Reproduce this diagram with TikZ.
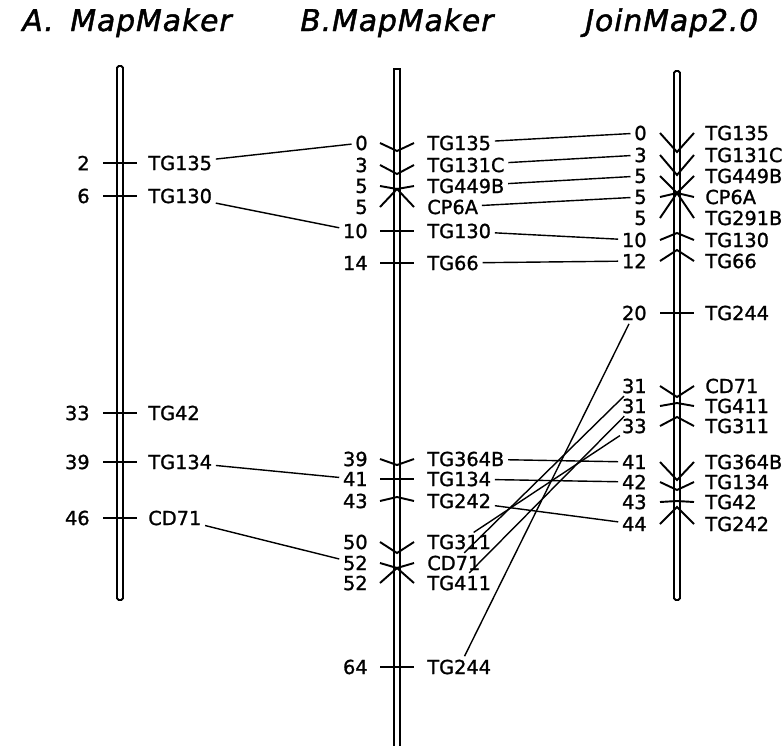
\documentclass[tikz,border=0pt]{standalone}
\usepackage{fontspec}
\setmainfont{DejaVu Sans}
\usetikzlibrary{calc}
\tikzset{
  chrom/.style={draw, line width=1.1pt},
  tickmark/.style={line width=1.1pt},
  link/.style={line width=0.8pt, shorten <=2pt, shorten >=2pt},
  numlab/.style={anchor=east, inner sep=0pt},
  locus/.style={anchor=west, inner sep=0pt},
  maptitle/.style={anchor=base west, inner sep=0pt,
    font=\fontsize{17}{19}\selectfont\itshape\addfontfeatures{FakeBold=1.5,LetterSpace=3}},
}

\begin{document}
\begin{tikzpicture}[x=0.02cm, y=-0.02cm,
  font=\fontsize{11}{13}\selectfont\addfontfeatures{FakeBold=1.2}]
  \useasboundingbox (0,0) rectangle (784,745);
  % titles
  \node[maptitle] (ta) at (22,31) {A.};
  \node[maptitle] (tam) at (70,31) {MapMaker};
  \node[maptitle] (tb) at (300,31) {B.MapMaker};
  \node[maptitle] (tc) at (585,31) {JoinMap2.0};
  % chromosomes
  \draw[chrom, rounded corners=1pt] (117,66) rectangle (123,600);
  \draw[chrom] (394,746) -- (394,69) -- (400,69) -- (400,746);
  \draw[chrom, rounded corners=1pt] (674,71) rectangle (680,600);
  % A. MapMaker
  \foreach \n/\m/\y in {2/TG135/163, 6/TG130/196, 33/TG42/413, 39/TG134/462, 46/CD71/518}{
    \draw[tickmark] (103,\y) -- (137,\y);
    \node[numlab] (na\m) at (90,\y) {\n};
    \node[locus] (a\m) at (148,\y) {\m};
  }
  % B. MapMaker
  \foreach \n/\m/\ly/\py in {0/TG135/143/151, 3/TG131C/165/174, 5/TG449B/186/189, 5/CP6A/207/189,
      10/TG130/231/231, 14/TG66/263/263, 39/TG364B/459/465, 41/TG134/479/479, 43/TG242/501/497,
      50/TG311/542/553, 52/CD71/563/568, 52/TG411/583/568, 64/TG244/667/667}{
    \draw[tickmark] (380,\ly) -- (397,\py) -- (414,\ly);
    \node[numlab] (nb\m) at (368,\ly) {\n};
    \node[locus] (b\m) at (427,\ly) {\m};
  }
  % JoinMap2.0
  \foreach \n/\m/\ly/\py in {0/TG135/133/152, 3/TG131C/155/175, 5/TG449B/176/193, 5/CP6A/197/193,
      5/TG291B/218/193, 10/TG130/240/233, 12/TG66/261/250, 20/TG244/313/313, 31/CD71/386/397,
      31/TG411/406/403, 33/TG311/426/417, 41/TG364B/462/480, 42/TG134/482/490, 43/TG42/502/501,
      44/TG242/524/507}{
    \draw[tickmark] (660,\ly) -- (677,\py) -- (694,\ly);
    \node[numlab] (nc\m) at (647,\ly) {\n};
    \node[locus] (c\m) at (705,\ly) {\m};
  }
  % links
  \foreach \m in {TG135,TG130,TG134,CD71}
    \draw[link] (a\m) -- (nb\m);
  \foreach \m in {TG135,TG131C,TG449B,CP6A,TG130,TG66,TG364B,TG134,TG242,TG311,CD71,TG411,TG244}
    \draw[link] (b\m) -- (nc\m);
\end{tikzpicture}
\end{document}
